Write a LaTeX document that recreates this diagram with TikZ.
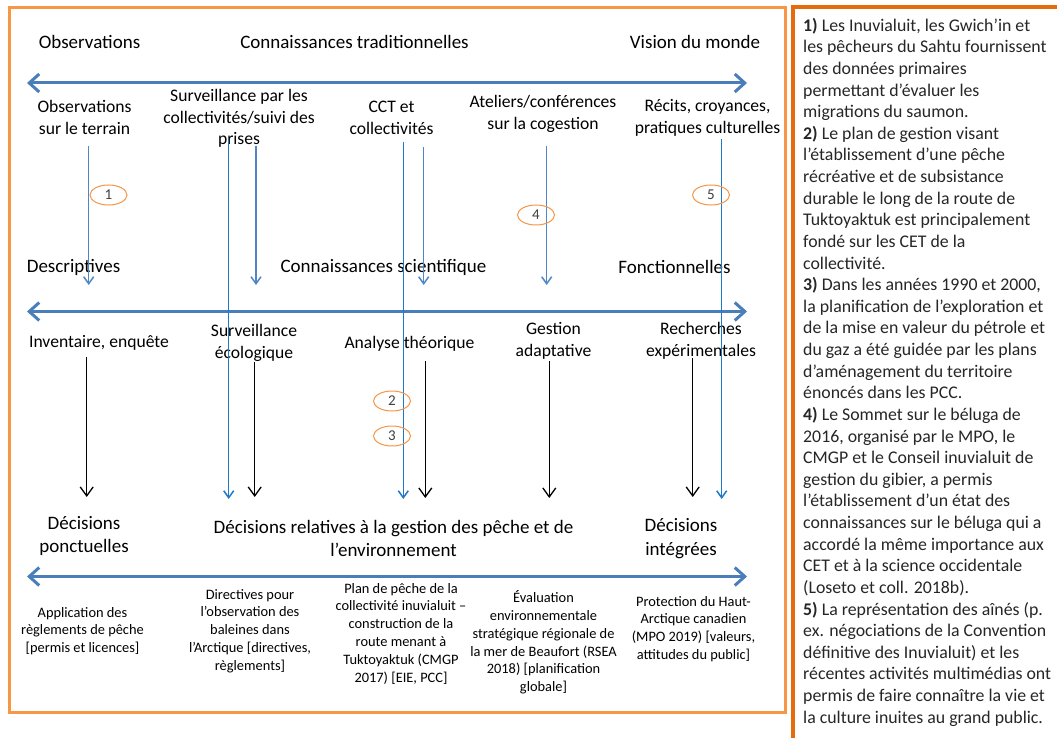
\documentclass[tikz,border=0pt]{standalone}
\usepackage{fontspec}
\setmainfont{Carlito}
\usetikzlibrary{arrows.meta,shapes.geometric}
\definecolor{boxor}{HTML}{F79646}
\definecolor{darkor}{HTML}{E46C0A}
\definecolor{axisblue}{HTML}{4A7EBB}
\definecolor{flowblue}{HTML}{4F86C6}
\definecolor{longblue}{HTML}{1F78C8}
\definecolor{numgray}{HTML}{404040}
\definecolor{txtgray}{HTML}{262626}
\begin{document}
\begin{tikzpicture}[x=1pt,y=-1pt,
  hdr/.style={font=\fontsize{19}{23.5}\selectfont,align=center,inner sep=0pt},
  lbl/.style={font=\fontsize{17.6}{21.5}\selectfont,align=center,inner sep=0pt},
  sml/.style={font=\fontsize{14.4}{17.8}\selectfont,align=center,inner sep=0pt},
  num/.style={ellipse,draw=boxor,line width=1pt,minimum width=37pt,minimum height=20pt,inner sep=0pt,font=\fontsize{15}{15}\selectfont,text=numgray},
  axis/.style={draw=axisblue,line width=3pt,{Straight Barb[length=10pt,width=18pt]}-{Straight Barb[length=10pt,width=18pt]}},
  flow/.style={draw=flowblue,line width=1.5pt,-{Straight Barb[length=7pt,width=10pt]}},
  longflow/.style={draw=longblue,line width=1.5pt,-{Straight Barb[length=7pt,width=10pt]}},
  dec/.style={draw=black,line width=1.3pt,-{Straight Barb[length=9pt,width=13pt]}}]
\useasboundingbox (0,0) rectangle (1057,738);
\fill[white] (0,0) rectangle (1057,738);
% frames
\draw[boxor,line width=3pt] (9,8) rectangle (785,712);
\draw[darkor,line width=4pt] (792.5,738) -- (792.5,7) -- (1057,7);

% row 1
\node[hdr] (h1a) at (89.5,42) {Observations};
\node[hdr] (h1b) at (354.5,42) {Connaissances traditionnelles};
\node[hdr] (h1c) at (695,42) {Vision du monde};
\coordinate (a1l) at (27,83);
\coordinate (a1r) at (747,83);
\draw[axis] (a1l) -- (a1r);

% row 2
\node[lbl] (r2a) at (84.5,117.5) {Observations\\sur le terrain};
\node[lbl] (r2b) at (239,118.5) {Surveillance par les\\collectivités/suivi des\\prises};
\node[lbl] (r2c) at (391.5,118) {CCT et\\collectivités};
\node[lbl] (r2d) at (543,114) {Ateliers/conférences\\sur la cogestion};
\node[lbl] (r2e) at (707.5,118) {Récits, croyances,\\pratiques culturelles};

% row 3
\node[hdr] (h3a) at (73.5,267) {Descriptives};
\node[hdr] (h3b) at (383.5,267) {Connaissances scientifique};
\node[hdr] (h3c) at (674.5,267) {Fonctionnelles};
\coordinate (a2l) at (27,311.5);
\coordinate (a2r) at (747,311.5);
\draw[axis] (a2l) -- (a2r);

% row 4
\node[lbl] (r4a) at (99,343) {Inventaire, enquête};
\node[lbl] (r4b) at (254,343) {Surveillance\\écologique};
\node[lbl] (r4c) at (409.5,344) {Analyse théorique};
\node[lbl] (r4d) at (553.5,341) {Gestion\\adaptative};
\node[lbl] (r4e) at (701,341) {Recherches\\expérimentales};

% row 5
\node[hdr] (h5a) at (84,536) {Décisions\\ponctuelles};
\node[hdr] (h5b) at (393.5,538.5) {Décisions relatives à la gestion des pêche et de\\l’environnement};
\node[hdr] (h5c) at (681,538.5) {Décisions\\intégrées};
\coordinate (a3l) at (27,576.5);
\coordinate (a3r) at (747,576.5);
\draw[axis] (a3l) -- (a3r);

% row 6
\node[sml] (r6a) at (82.5,631) {Application des\\règlements de pêche\\{[permis et licences]}};
\node[sml] (r6b) at (250,631) {Directives pour\\l’observation des\\baleines dans\\l’Arctique [directives,\\règlements]};
\node[sml] (r6c) at (401,633.5) {Plan de pêche de la\\collectivité inuvialuit –\\construction de la\\route menant à\\Tuktoyaktuk (CMGP\\2017) [EIE, PCC]};
\node[sml] (r6d) at (543.5,642.5) {Évaluation\\environnementale\\stratégique régionale de\\la mer de Beaufort (RSEA\\2018) [planification\\globale]};
\node[sml] (r6e) at (693.5,629) {Protection du Haut-\\Arctique canadien\\(MPO 2019) [valeurs,\\attitudes du public]};

% blue vertical connectors
\coordinate (v1s) at (88.7,146);  \coordinate (v1e) at (88.7,285);
\coordinate (v2s) at (228.7,140); \coordinate (v2e) at (228.7,499);
\coordinate (v3s) at (256,146);   \coordinate (v3e) at (256,285);
\coordinate (v4s) at (403.3,142); \coordinate (v4e) at (403.3,499);
\coordinate (v5s) at (423.7,147); \coordinate (v5e) at (423.7,285);
\coordinate (v6s) at (546.7,146); \coordinate (v6e) at (546.7,285);
\coordinate (v7s) at (721.7,139); \coordinate (v7e) at (721.7,499);
\draw[flow] (v1s) -- (v1e);
\draw[longflow] (v2s) -- (v2e);
\draw[flow] (v3s) -- (v3e);
\draw[longflow] (v4s) -- (v4e);
\draw[flow] (v5s) -- (v5e);
\draw[flow] (v6s) -- (v6e);
\draw[longflow] (v7s) -- (v7e);

% black connectors
\coordinate (b1s) at (86.7,357);  \coordinate (b1e) at (86.7,497);
\coordinate (b2s) at (254.7,362); \coordinate (b2e) at (254.7,497);
\coordinate (b3s) at (425.3,361); \coordinate (b3e) at (425.3,498);
\coordinate (b4s) at (549.3,361); \coordinate (b4e) at (549.3,498);
\coordinate (b5s) at (692.7,358); \coordinate (b5e) at (692.7,497);
\draw[dec] (b1s) -- (b1e);
\draw[dec] (b2s) -- (b2e);
\draw[dec] (b3s) -- (b3e);
\draw[dec] (b4s) -- (b4e);
\draw[dec] (b5s) -- (b5e);

% numbered ellipses
\node[num] (n1) at (108.5,195) {1};
\node[num] (n5) at (711,195) {5};
\node[num] (n4) at (536,215) {4};
\node[num] (n2) at (392,401) {2};
\node[num] (n3) at (392,436) {3};

% right panel text
\node[anchor=north west,inner sep=0pt,align=left,text=txtgray,
      font=\fontsize{17.8}{21.625}\selectfont] (notes) at (803,16)
{\rule{0pt}{15pt}\textbf{1)} Les Inuvialuit, les Gwich’in et\\
les pêcheurs du Sahtu fournissent\\
des données primaires\\
permettant d’évaluer les\\
migrations du saumon.\\
\textbf{2)} Le plan de gestion visant\\
l’établissement d’une pêche\\
récréative et de subsistance\\
durable le long de la route de\\
Tuktoyaktuk est principalement\\
fondé sur les CET de la\\
collectivité.\\
\textbf{3)} Dans les années 1990 et 2000,\\
la planification de l’exploration et\\
de la mise en valeur du pétrole et\\
du gaz a été guidée par les plans\\
d’aménagement du territoire\\
énoncés dans les PCC.\\
\textbf{4)} Le Sommet sur le béluga de\\
2016, organisé par le MPO, le\\
CMGP et le Conseil inuvialuit de\\
gestion du gibier, a permis\\
l’établissement d’un état des\\
connaissances sur le béluga qui a\\
accordé la même importance aux\\
CET et à la science occidentale\\
(Loseto et coll. 2018b).\\
\textbf{5)} La représentation des aînés (p.\\
ex. négociations de la Convention\\
définitive des Inuvialuit) et les\\
récentes activités multimédias ont\\
permis de faire connaître la vie et\\
la culture inuites au grand public.};
\end{tikzpicture}
\end{document}
